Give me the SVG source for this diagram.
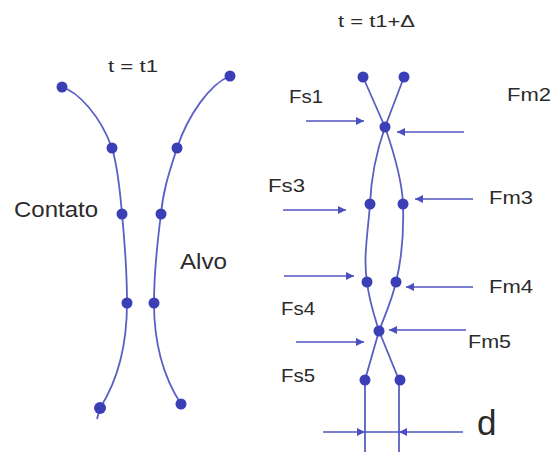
<svg xmlns="http://www.w3.org/2000/svg" width="552" height="452" viewBox="0 0 552 452">
  <style>
    .strand { fill: none; stroke: #5b5fc4; stroke-width: 1.8; }
    .dot { fill: #3b3fb5; }
    .arrow { fill: none; stroke: #5155c0; stroke-width: 1.6; }
    .lbl { font-family: "Liberation Sans", Arial, sans-serif; fill: #2b2b2b; }
    .f18 { font-size: 18px; }
    .f22 { font-size: 22px; }
    .f16 { font-size: 17px; }
  </style>
  <defs>
    <marker id="ah" viewBox="0 0 10 10" refX="10" refY="5" markerWidth="9" markerHeight="8" markerUnits="userSpaceOnUse" orient="auto">
      <path d="M0,0 L10,5 L0,10 z" fill="#4a4fbf"/>
    </marker>
  </defs>
  <rect width="552" height="452" fill="#ffffff"/>

  <g id="left-state">
    <g id="contato-strand">
      <path class="strand" d="M62,87 C78,92 100,115 112,148 C118,168 120,190 122,214 C125,245 127,275 127,303 C127,345 118,380 100,408 L97,419"/>
      <circle class="dot" cx="62" cy="87" r="5.5"/>
      <circle class="dot" cx="112" cy="148" r="5.5"/>
      <circle class="dot" cx="122" cy="214" r="5.5"/>
      <circle class="dot" cx="127" cy="303" r="5.5"/>
      <circle class="dot" cx="100" cy="408" r="6"/>
    </g>
    <g id="alvo-strand">
      <path class="strand" d="M230,76 C210,84 188,115 177,148 C170,170 163,190 161,214 C157,245 154,275 154,303 C154,345 164,378 181,404"/>
      <circle class="dot" cx="230" cy="76" r="5.5"/>
      <circle class="dot" cx="177" cy="148" r="5.5"/>
      <circle class="dot" cx="161" cy="214" r="5.5"/>
      <circle class="dot" cx="154" cy="303" r="5.5"/>
      <circle class="dot" cx="181" cy="404" r="5.5"/>
    </g>
    <text class="lbl f16" x="108" y="72" textLength="50" lengthAdjust="spacingAndGlyphs">t = t1</text>
    <text class="lbl f22" x="14" y="217" textLength="84" lengthAdjust="spacingAndGlyphs">Contato</text>
    <text class="lbl f22" x="180" y="269" textLength="47" lengthAdjust="spacingAndGlyphs">Alvo</text>
  </g>

  <g id="right-state">
    <g id="strand-a">
      <path class="strand" d="M363,77 L385,127 C393,150 402,180 403,204 C404,235 401,262 396,282 C392,300 385,315 379,331 L365,380 L365,452"/>
    </g>
    <g id="strand-b">
      <path class="strand" d="M404,77 L385,127 C377,150 371,180 370,204 C368,232 363,258 367,282 C369,300 374,315 379,331 L399,380 L399,452"/>
    </g>
    <g id="dots-right">
      <circle class="dot" cx="363" cy="77" r="5.5"/>
      <circle class="dot" cx="404" cy="77" r="5.5"/>
      <circle class="dot" cx="385" cy="127" r="5.5"/>
      <circle class="dot" cx="370" cy="204" r="5.5"/>
      <circle class="dot" cx="403" cy="204" r="5.5"/>
      <circle class="dot" cx="367" cy="282" r="5.5"/>
      <circle class="dot" cx="396" cy="282" r="5.5"/>
      <circle class="dot" cx="379" cy="331" r="5.5"/>
      <circle class="dot" cx="365" cy="380" r="5.5"/>
      <circle class="dot" cx="400" cy="380" r="5.5"/>
    </g>
    <text class="lbl f16" x="338" y="27" textLength="77" lengthAdjust="spacingAndGlyphs">t = t1+Δ</text>
  </g>

  <g id="connectors">
    <path class="arrow" d="M306,121 L364,121" marker-end="url(#ah)"/>
    <path class="arrow" d="M464,132 L397,132" marker-end="url(#ah)"/>
    <path class="arrow" d="M283,210 L346,210" marker-end="url(#ah)"/>
    <path class="arrow" d="M473,199 L415,199" marker-end="url(#ah)"/>
    <path class="arrow" d="M284,276 L354,276" marker-end="url(#ah)"/>
    <path class="arrow" d="M473,287 L406,287" marker-end="url(#ah)"/>
    <path class="arrow" d="M296,342 L364,342" marker-end="url(#ah)"/>
    <path class="arrow" d="M466,330 L389,330" marker-end="url(#ah)"/>
    <path class="arrow" d="M323,432 L365,432" marker-end="url(#ah)"/>
    <path class="arrow" d="M365,432 L399,432"/>
    <path class="arrow" d="M463,432 L399,432" marker-end="url(#ah)"/>
  </g>

  <g id="labels">
    <text class="lbl f18" x="289" y="103" textLength="34" lengthAdjust="spacingAndGlyphs">Fs1</text>
    <text class="lbl f18" x="507" y="101" textLength="44" lengthAdjust="spacingAndGlyphs">Fm2</text>
    <text class="lbl f18" x="268" y="192" textLength="37" lengthAdjust="spacingAndGlyphs">Fs3</text>
    <text class="lbl f18" x="489" y="204" textLength="44" lengthAdjust="spacingAndGlyphs">Fm3</text>
    <text class="lbl f18" x="489" y="293" textLength="44" lengthAdjust="spacingAndGlyphs">Fm4</text>
    <text class="lbl f18" x="281" y="315" textLength="34" lengthAdjust="spacingAndGlyphs">Fs4</text>
    <text class="lbl f18" x="468" y="348" textLength="43" lengthAdjust="spacingAndGlyphs">Fm5</text>
    <text class="lbl f18" x="281" y="382" textLength="34" lengthAdjust="spacingAndGlyphs">Fs5</text>
    <text class="lbl" x="477" y="435" font-size="35">d</text>
  </g>
</svg>
